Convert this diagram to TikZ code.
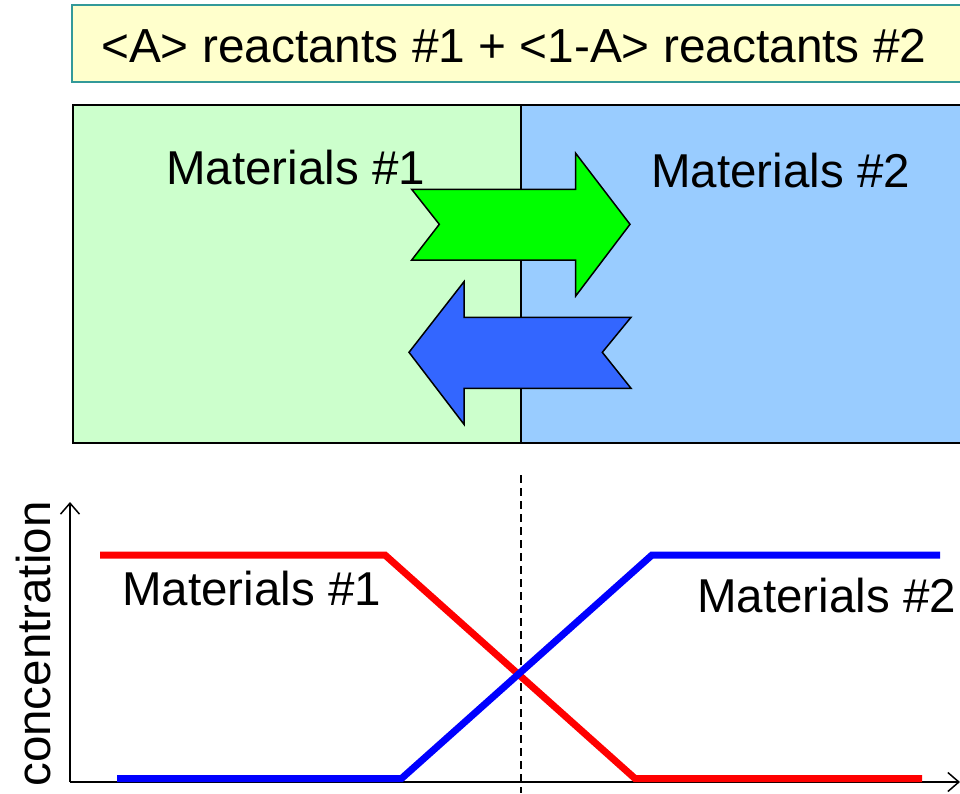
\documentclass[tikz,border=0pt]{standalone}
\usepackage{fontspec}
\setmainfont{Liberation Sans}
\usetikzlibrary{arrows.meta}
\definecolor{titlefill}{HTML}{FFFFCC}
\definecolor{titleborder}{HTML}{339999}
\definecolor{leftfill}{HTML}{CCFFCC}
\definecolor{rightfill}{HTML}{99CCFF}
\definecolor{greenarrow}{HTML}{00FF00}
\definecolor{bluearrow}{HTML}{3366FF}
\definecolor{curvered}{HTML}{FF0000}
\definecolor{curveblue}{HTML}{0000FF}
\tikzset{
  bigtext/.style={inner sep=0pt, font=\fontsize{47.5}{56}\selectfont},
  titletext/.style={inner sep=0pt, font=\fontsize{47.8}{58}\selectfont},
  regionbox/.style={draw=black, line width=2pt},
  fatarrow/.style={draw=black, line width=1.5pt, line join=miter},
  curve/.style={line width=7pt, line join=miter},
  axisline/.style={line width=1.5pt, -{Straight Barb[length=11pt,width=19pt,line width=1.5pt]}},
}
\begin{document}
\begin{tikzpicture}[x=1pt,y=-1pt]
\useasboundingbox (0,0) rectangle (960,793);
\clip (0,0) rectangle (960,793);

% title box
\draw[fill=titlefill, draw=titleborder, line width=1.5pt] (72,5) rectangle (990,82);
\node[titletext, anchor=base west] (title) at (101,62) {<A> reactants \#1 + <1-A> reactants \#2};

% material regions
\fill[leftfill] (73,105) rectangle (521,443);
\fill[rightfill] (521,105) rectangle (990,443);
\draw[regionbox] (73,105) rectangle (990,443);
\draw[regionbox] (521,105) -- (521,443);

\node[bigtext, anchor=base west] (mat1) at (166,184) {Materials \#1};
\node[bigtext, anchor=base west] (mat2) at (651,187) {Materials \#2};

% arrows
\draw[fatarrow, fill=greenarrow] (411.7,189.3) -- (575.7,189.3) -- (575.7,153.3) -- (630,224.3)
  -- (575.7,296) -- (575.7,260) -- (411.7,260) -- (439.3,224.3) -- cycle;
\draw[fatarrow, fill=bluearrow] (631,317.3) -- (464,317.3) -- (464,281.7) -- (409,352.3)
  -- (464,424.3) -- (464,388.3) -- (631,388.3) -- (602.3,352.3) -- cycle;

% plot
\coordinate (origin) at (70,782);
\coordinate (ytip) at (70,502);
\coordinate (xtip) at (960,782);
\draw[axisline] (origin) -- (ytip);
\draw[axisline] (origin) -- (xtip);
\draw[line width=1.5pt, dash pattern=on 8pt off 5pt] (521,475) -- (521,793);

\draw[curve, curvered] (100,555) -- (385,555) -- (635,778.5) -- (922,778.5);
\draw[curve, curveblue] (117,778.5) -- (401.5,778.5) -- (652,555) -- (940,555);

\node[bigtext, anchor=base west] (pmat1) at (122,605) {Materials \#1};
\node[bigtext, anchor=base west] (pmat2) at (697,612) {Materials \#2};
\node[bigtext, anchor=base, rotate=90] (ylabel) at (50,644) {concentration};
\end{tikzpicture}
\end{document}
